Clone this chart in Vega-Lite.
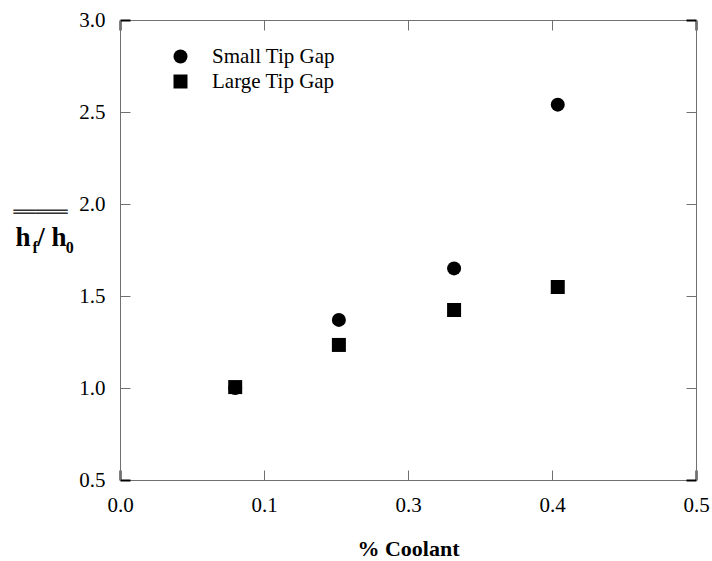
{
  "$schema": "https://vega.github.io/schema/vega-lite/v6.json",
  "width": 576,
  "height": 460,
  "autosize": {"type": "none"},
  "padding": {"left": 120, "top": 20, "right": 16, "bottom": 81},
  "background": "white",
  "config": {"view": {"stroke": null}, "font": "Liberation Serif"},
  "data": {
    "values": [
      {"gap": "Small Tip Gap", "coolant": 0.10, "ratio": 1.00},
      {"gap": "Small Tip Gap", "coolant": 0.19, "ratio": 1.37},
      {"gap": "Small Tip Gap", "coolant": 0.29, "ratio": 1.65},
      {"gap": "Small Tip Gap", "coolant": 0.38, "ratio": 2.54},
      {"gap": "Large Tip Gap", "coolant": 0.10, "ratio": 1.005},
      {"gap": "Large Tip Gap", "coolant": 0.19, "ratio": 1.234},
      {"gap": "Large Tip Gap", "coolant": 0.29, "ratio": 1.424},
      {"gap": "Large Tip Gap", "coolant": 0.38, "ratio": 1.549}
    ]
  },
  "resolve": {"axis": {"x": "independent", "y": "independent"}},
  "layer": [
    {
      "mark": {"type": "point", "filled": true, "opacity": 1, "size": 196, "color": "black", "strokeWidth": 0},
      "encoding": {
        "x": {
          "field": "coolant", "type": "quantitative",
          "scale": {"domain": [0, 0.5], "nice": false, "zero": false},
          "axis": {
            "orient": "bottom", "values": [0, 0.125, 0.25, 0.375, 0.5], "format": ".1f",
            "grid": false, "domainColor": "#707070", "domainWidth": 1,
            "tickSize": -10,
            "tickColor": {"condition": {"test": "datum.value <= 0 || datum.value >= 0.5", "value": "black"}, "value": "#707070"},
            "tickWidth": {"condition": {"test": "datum.value <= 0 || datum.value >= 0.5", "value": 2}, "value": 1},
            "labelFont": "Liberation Serif", "labelFontSize": 21, "labelColor": "black",
            "labelPadding": 24, "labelFlush": false, "labelOverlap": false, "labelBound": false,
            "title": "% Coolant", "titleFont": "Liberation Serif", "titleFontSize": 22, "titleFontWeight": "bold",
            "titleColor": "black", "titleX": 288, "titleY": 75, "titleAlign": "center", "titleBaseline": "alphabetic"
          }
        },
        "y": {
          "field": "ratio", "type": "quantitative",
          "scale": {"domain": [0.5, 3], "nice": false, "zero": false},
          "axis": {
            "orient": "left", "values": [0.5, 1, 1.5, 2, 2.5, 3], "format": ".1f",
            "grid": false, "domainColor": "#707070", "domainWidth": 1,
            "tickSize": -10,
            "tickColor": {"condition": {"test": "datum.value <= 0.5 || datum.value >= 3", "value": "black"}, "value": "#707070"},
            "tickWidth": {"condition": {"test": "datum.value <= 0.5 || datum.value >= 3", "value": 2}, "value": 1},
            "labelFont": "Liberation Serif", "labelFontSize": 21, "labelColor": "black",
            "labelPadding": 25, "labelFlush": false, "labelOverlap": false, "labelBound": false,
            "title": "h\u00a0/\u00a0h", "titleFont": "Liberation Serif", "titleFontSize": 27, "titleFontWeight": "bold",
            "titleColor": "black", "titleAngle": 0, "titleX": -105, "titleY": 225, "titleAlign": "left", "titleBaseline": "alphabetic"
          }
        },
        "shape": {
          "field": "gap", "type": "nominal",
          "scale": {"domain": ["Small Tip Gap", "Large Tip Gap"], "range": ["circle", "square"]},
          "legend": {
            "orient": "none", "legendX": 50, "legendY": 26, "title": null, "padding": 0,
            "labelFont": "Liberation Serif", "labelFontSize": 21, "labelColor": "black",
            "symbolSize": 196, "symbolFillColor": "black", "symbolStrokeColor": "black", "symbolStrokeWidth": 0,
            "labelOffset": 21, "rowPadding": 3
          }
        }
      }
    },
    {
      "mark": {"type": "point", "opacity": 0},
      "encoding": {
        "x": {
          "field": "coolant", "type": "quantitative",
          "axis": {
            "orient": "top", "values": [0, 0.125, 0.25, 0.375, 0.5], "labels": false, "grid": false,
            "domainColor": "#707070", "domainWidth": 1, "tickSize": -10,
            "tickColor": {"condition": {"test": "datum.value <= 0 || datum.value >= 0.5", "value": "black"}, "value": "#707070"},
            "tickWidth": {"condition": {"test": "datum.value <= 0 || datum.value >= 0.5", "value": 2}, "value": 1},
            "title": null
          }
        },
        "y": {
          "field": "ratio", "type": "quantitative",
          "axis": {
            "orient": "left", "domain": false, "ticks": false, "labels": false, "grid": false,
            "title": "f\u00a0\u00a0\u00a0\u00a0\u00a0\u00a0\u00a00", "titleFont": "Liberation Serif", "titleFontSize": 16, "titleFontWeight": "bold",
            "titleColor": "black", "titleAngle": 0, "titleX": -88, "titleY": 232, "titleAlign": "left", "titleBaseline": "alphabetic"
          }
        }
      }
    },
    {
      "mark": {"type": "point", "opacity": 0},
      "encoding": {
        "x": {"field": "coolant", "type": "quantitative", "axis": null},
        "y": {
          "field": "ratio", "type": "quantitative",
          "axis": {
            "orient": "left", "domain": false, "ticks": false, "labels": false, "grid": false,
            "title": "═════", "titleFont": "DejaVu Sans", "titleFontSize": 18, "titleFontWeight": "normal",
            "titleColor": "#333333", "titleAngle": 0, "titleX": -107, "titleY": 197, "titleAlign": "left", "titleBaseline": "alphabetic"
          }
        }
      }
    },
    {
      "mark": {"type": "point", "opacity": 0},
      "encoding": {
        "x": {"field": "coolant", "type": "quantitative", "axis": null},
        "y": {
          "field": "ratio", "type": "quantitative",
          "axis": {
            "orient": "right", "values": [0.5, 1, 1.5, 2, 2.5, 3], "labels": false, "grid": false,
            "domainColor": "#707070", "domainWidth": 1, "tickSize": -10,
            "tickColor": {"condition": {"test": "datum.value <= 0.5 || datum.value >= 3", "value": "black"}, "value": "#707070"},
            "tickWidth": {"condition": {"test": "datum.value <= 0.5 || datum.value >= 3", "value": 2}, "value": 1},
            "title": null
          }
        }
      }
    }
  ]
}
